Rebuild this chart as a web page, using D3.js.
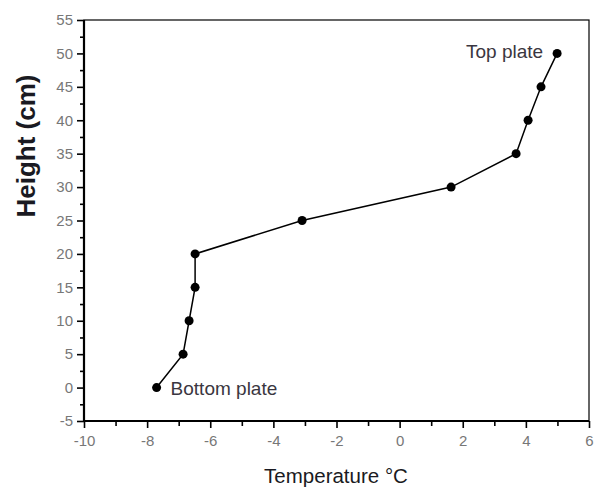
<!DOCTYPE html>
<meta charset="utf-8">
<script src="https://d3js.org/d3.v7.min.js"></script>
<style>
	body{
		margin:0;
		background:#fff;
		font-family: 'Liberation Sans', Arial, sans-serif;
	}
	.tick text{
		fill:#777;
		font-size:15px;
	}
</style>
<div id="chart"></div>
<script>

	// temperature (C), one per height
	var temps = [-7.7, -6.86, -6.67, -6.48, -6.48, -3.09, 1.63, 3.69, 4.07, 4.48, 4.99]
	var heights = [0, 5, 10, 15, 20, 25, 30, 35, 40, 45, 50]
	var xTicks = [-10, -8, -6, -4, -2, 0, 2, 4, 6]
	var yTicks = [-5, 0, 5, 10, 15, 20, 25, 30, 35, 40, 45, 50, 55]

	var w = 598
	var h = 488
	// plot box edges (window.top is reserved, so pT/pB etc)
	var pL = 84, pR = 589, pT = 20, pB = 421

	var svg = d3.select("#chart").append("svg").attr("width",w).attr("height",h)

	var x = d3.scaleLinear().domain([-10,6]).range([pL,pR])
	var y = d3.scaleLinear().domain([-5,55]).range([pB,pT])
	var fmt = function(d){ return String(d) }

	// minor ticks first
	svg.append("g").attr("transform","translate(0,"+pB+")")
		.call(d3.axisBottom(x).tickValues(d3.range(-9,6,2)).tickSize(5).tickFormat(""))
		.call(g=>g.select(".domain").remove())
	svg.append("g").attr("transform","translate("+pL+",0)")
		.call(d3.axisLeft(y).tickValues(d3.range(-2.5,55,5)).tickSize(4).tickFormat(""))
		.call(g=>g.select(".domain").remove())

	var xAxis = svg.append("g").attr("transform","translate(0,"+pB+")")
		.call(d3.axisBottom(x).tickValues(xTicks).tickSize(7).tickPadding(7).tickFormat(fmt))
	xAxis.select(".domain").remove()

	var yAxis = svg.append("g").attr("transform","translate("+pL+",0)")
		.call(d3.axisLeft(y).tickValues(yTicks).tickSize(7).tickPadding(4).tickFormat(fmt))
	yAxis.select(".domain").remove()

	svg.selectAll(".tick line").attr("stroke","#000").attr("stroke-width",1.6)

	// frame
	svg.append("rect").attr("x",pL).attr("y",pT)
		.attr("width",pR-pL).attr("height",pB-pT)
		.attr("fill","none").attr("stroke","#000").attr("stroke-width",1.2)
	svg.append("line").attr("x1",pL).attr("x2",pR).attr("y1",pB).attr("y2",pB)
		.attr("stroke","#000").attr("stroke-width",2.2)
	svg.append("line").attr("x1",pL).attr("x2",pL).attr("y1",pT).attr("y2",pB)
		.attr("stroke","#000").attr("stroke-width",2.2)

	var pts = temps.map(function(t,i){ return [t, heights[i]] })

	svg.append("path").datum(pts)
		.attr("d", d3.line().x(d=>x(d[0])).y(d=>y(d[1])))
		.attr("fill","none").attr("stroke","#000").attr("stroke-width",1.5)

	svg.append("g").selectAll("circle").data(pts).join("circle")
		.attr("cx",d=>x(d[0])).attr("cy",d=>y(d[1])).attr("r",4.5)
		.attr("fill","#000")

	svg.append("text").text("Top plate")
		.attr("x",x(temps[10])-14).attr("y",y(50)+5)
		.attr("text-anchor","end").attr("fill","#3a3640").style("font-size","19px")
	svg.append("text").text("Bottom plate")
		.attr("x",x(temps[0])+14).attr("y",y(0)+7)
		.attr("fill","#3a3640").style("font-size","19px")

	svg.append("text").text("Height (cm)")
		.attr("transform","translate(35,146) rotate(-90)")
		.attr("text-anchor","middle").attr("fill","#1a1a22")
		.style("font-size","26px").style("font-weight","bold")

	svg.append("text").text("Temperature \u00B0C")
		.attr("x",336).attr("y",483)
		.attr("text-anchor","middle").attr("fill","#1a1a22")
		.style("font-size","20.5px")

</script>
